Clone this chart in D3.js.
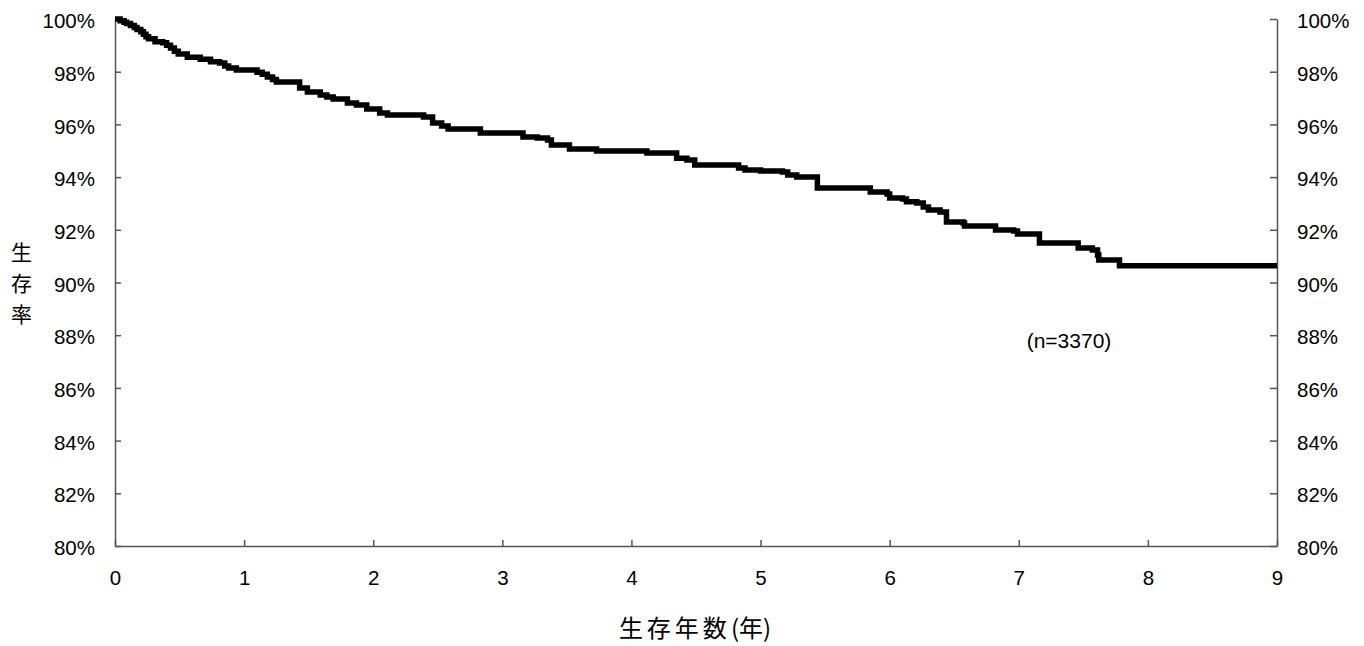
<!DOCTYPE html>
<html>
<head>
<meta charset="utf-8">
<script src="https://cdn.jsdelivr.net/npm/d3@7"></script>
<style>
  html, body { margin: 0; padding: 0; background: #fff; }
  svg { display: block; }
  text { font-family: "Liberation Sans", Arial, sans-serif; fill: #000; }
  .cjk { font-family: "Noto Sans CJK JP", "Noto Sans CJK SC", sans-serif; }
</style>
</head>
<body>
<svg id="chart" width="1364" height="646"></svg>
<script>
// Kaplan-Meier step points: time (years) and survival (%)
const stepTimes = [0, 0.04, 0.07, 0.09, 0.12, 0.15, 0.17, 0.20, 0.22, 0.24, 0.26, 0.31, 0.37, 0.40, 0.43, 0.46, 0.49, 0.56, 0.66, 0.74, 0.81, 0.85, 0.88, 0.94, 1.06, 1.10, 1.14, 1.18, 1.22, 1.25, 1.38, 1.43, 1.49, 1.59, 1.64, 1.69, 1.80, 1.87, 1.95, 2.05, 2.11, 2.39, 2.46, 2.53, 2.58, 2.77, 2.83, 3.11, 3.16, 3.27, 3.35, 3.38, 3.50, 3.52, 3.70, 3.73, 4.04, 4.12, 4.31, 4.35, 4.43, 4.49, 4.79, 4.83, 4.88, 5.00, 5.17, 5.21, 5.28, 5.40, 5.44, 5.81, 5.85, 5.98, 6.00, 6.10, 6.13, 6.21, 6.26, 6.30, 6.39, 6.44, 6.57, 6.58, 6.79, 6.82, 6.96, 6.99, 7.14, 7.16, 7.44, 7.46, 7.57, 7.61, 7.62, 7.76, 7.78, 9.0];
const survival = [100, 99.93, 99.88, 99.83, 99.75, 99.68, 99.60, 99.52, 99.42, 99.33, 99.25, 99.14, 99.10, 99.00, 98.90, 98.78, 98.67, 98.55, 98.47, 98.38, 98.33, 98.22, 98.14, 98.06, 98.06, 97.98, 97.90, 97.80, 97.70, 97.61, 97.61, 97.38, 97.23, 97.12, 97.04, 96.96, 96.81, 96.74, 96.58, 96.43, 96.36, 96.28, 96.05, 95.94, 95.83, 95.83, 95.67, 95.67, 95.52, 95.48, 95.41, 95.22, 95.22, 95.07, 95.07, 94.99, 94.99, 94.91, 94.91, 94.72, 94.65, 94.46, 94.46, 94.35, 94.27, 94.23, 94.19, 94.08, 94.00, 94.00, 93.59, 93.59, 93.43, 93.36, 93.21, 93.17, 93.06, 93.02, 92.87, 92.75, 92.68, 92.30, 92.26, 92.14, 92.14, 91.99, 91.95, 91.84, 91.84, 91.50, 91.50, 91.31, 91.23, 91.04, 90.85, 90.85, 90.64, 90.64];

const xTicks = [0, 1, 2, 3, 4, 5, 6, 7, 8, 9];
const yTicks = [80, 82, 84, 86, 88, 90, 92, 94, 96, 98, 100];
const xTitle = "生存年数";
const xTitleUnit = "(年)";
const yTitleChars = ["生", "存", "率"];
const nLabel = "(n=3370)";

const svg = d3.select("#chart");
const plotLeft = 115, plotRight = 1277, plotTop = 19, plotBottom = 546;

const x = d3.scaleLinear().domain([0, 9]).range([plotLeft, plotRight]);
const y = d3.scaleLinear().domain([80, 100]).range([plotBottom, plotTop]);

const axisColor = "#555";

const gL = svg.append("g").attr("transform", `translate(${plotLeft},0)`)
  .call(d3.axisLeft(y).tickValues(yTicks).tickSizeInner(-6).tickSizeOuter(0).tickPadding(20).tickFormat(d => d + "%"));
const gR = svg.append("g").attr("transform", `translate(${plotRight},0)`)
  .call(d3.axisRight(y).tickValues(yTicks).tickSizeInner(-7).tickSizeOuter(0).tickPadding(20).tickFormat(d => d + "%"));
const gB = svg.append("g").attr("transform", `translate(0,${plotBottom})`)
  .call(d3.axisBottom(x).tickValues(xTicks).tickSizeInner(-6).tickSizeOuter(0).tickPadding(24).tickFormat(d3.format("d")));

[gL, gR, gB].forEach(g => {
  g.select(".domain").attr("stroke", axisColor).attr("stroke-width", 1.5);
  g.selectAll(".tick line").attr("stroke", axisColor).attr("stroke-width", 1.5);
  g.selectAll(".tick text").attr("font-size", 20.5).attr("font-family", "Liberation Sans, Arial, sans-serif").attr("fill", "#000");
});
gB.selectAll(".tick text").attr("dy", "0.71em");
gL.selectAll(".tick text").attr("dy", "0.42em");
gR.selectAll(".tick text").attr("dy", "0.42em");

const pts = stepTimes.map((t, i) => [t, survival[i]]);
const line = d3.line().x(d => x(d[0])).y(d => y(d[1])).curve(d3.curveStepAfter);
svg.append("path").datum(pts)
  .attr("d", line)
  .attr("fill", "none")
  .attr("stroke", "#000")
  .attr("stroke-width", 5.5)
  .attr("stroke-linejoin", "miter");

svg.append("text").attr("x", 1069).attr("y", 348).attr("text-anchor", "middle")
  .attr("font-size", 21).text(nLabel);

const xt = svg.append("text").attr("class", "cjk").attr("x", 695).attr("y", 637)
  .attr("text-anchor", "middle").attr("font-size", 24);
xt.append("tspan").attr("letter-spacing", "4px").text(xTitle);
xt.append("tspan").text(xTitleUnit);

yTitleChars.forEach((c, i) => {
  svg.append("text").attr("class", "cjk").attr("font-size", 21).attr("text-anchor", "middle")
    .attr("x", 21.5).attr("y", 260 + i * 31).text(c);
});
</script>
</body>
</html>
